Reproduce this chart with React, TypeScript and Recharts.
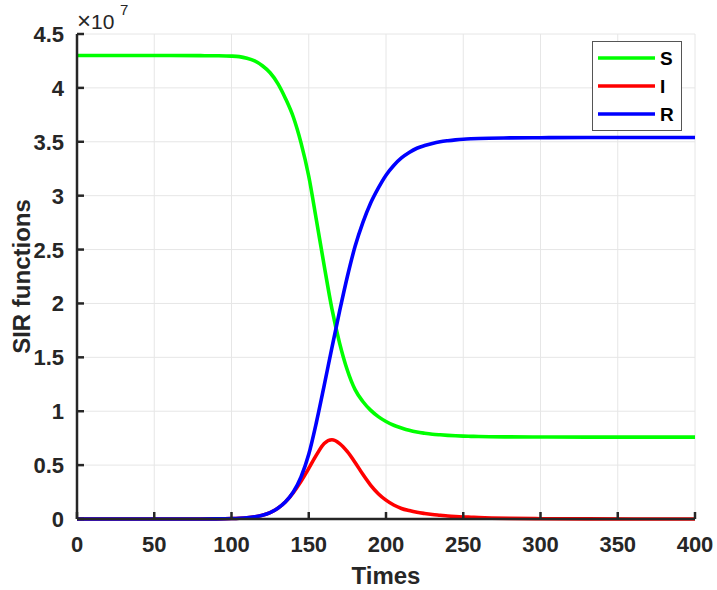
import React from 'react';
import { LineChart, Line, XAxis, YAxis, CartesianGrid, Legend } from 'recharts';

// values in units of 1e7
const times = [0, 20, 40, 60, 80, 90, 100, 105, 110, 115, 120, 125, 130, 135, 140, 145, 150, 155, 160, 165, 170, 175, 180, 185, 190, 195, 200, 205, 210, 215, 220, 225, 230, 235, 240, 245, 250, 255, 260, 280, 300, 330, 360, 400];
const susceptible = [4.3, 4.3, 4.3, 4.3, 4.299, 4.298, 4.295, 4.29, 4.275, 4.25, 4.205, 4.14, 4.04, 3.9, 3.73, 3.49, 3.18, 2.77, 2.35, 1.95, 1.63, 1.38, 1.2, 1.09, 1.01, 0.95, 0.905, 0.87, 0.845, 0.823, 0.807, 0.796, 0.787, 0.781, 0.776, 0.772, 0.769, 0.767, 0.765, 0.762, 0.761, 0.76, 0.76, 0.76];
const infected = [0, 0, 0, 0, 0, 0.001, 0.004, 0.007, 0.012, 0.021, 0.035, 0.06, 0.1, 0.16, 0.245, 0.35, 0.47, 0.595, 0.7, 0.735, 0.7, 0.625, 0.525, 0.415, 0.315, 0.235, 0.175, 0.13, 0.098, 0.078, 0.062, 0.051, 0.042, 0.035, 0.028, 0.023, 0.019, 0.016, 0.013, 0.006, 0.003, 0.001, 0, 0];
const recovered = [0, 0, 0, 0, 0, 0.001, 0.004, 0.007, 0.012, 0.021, 0.035, 0.06, 0.1, 0.16, 0.25, 0.39, 0.6, 0.9, 1.24, 1.59, 1.93, 2.25, 2.53, 2.75, 2.93, 3.07, 3.19, 3.28, 3.35, 3.4, 3.44, 3.465, 3.485, 3.5, 3.51, 3.518, 3.524, 3.528, 3.531, 3.536, 3.538, 3.54, 3.54, 3.54];

const xTicks = [0, 50, 100, 150, 200, 250, 300, 350, 400];
const yTicks = [0, 0.5, 1, 1.5, 2, 2.5, 3, 3.5, 4, 4.5];

const series = [
  { key: 'S', color: '#00ff00' },
  { key: 'I', color: '#ff0000' },
  { key: 'R', color: '#0000ff' },
];

const data = times.map((t, i) => ({ t, S: susceptible[i], I: infected[i], R: recovered[i] }));

const FONT = '"Liberation Sans", Arial, Helvetica, sans-serif';
const INK = '#262626';
const PLOT_LEFT = 77;
const PLOT_TOP = 34;

const XTick = (props: any) => {
  const { x, y, payload } = props;
  return (
    <g>
      <line x1={x} y1={y} x2={x} y2={y - 7} stroke={INK} strokeWidth={2.5} />
      <text x={x} y={y + 33} textAnchor="middle" fontFamily={FONT} fontWeight="bold" fontSize={22} fill={INK}>
        {payload.value}
      </text>
    </g>
  );
};

const YTick = (props: any) => {
  const { x, y, payload } = props;
  return (
    <g>
      <line x1={x} y1={y} x2={x + 7} y2={y} stroke={INK} strokeWidth={2.5} />
      <text x={x - 13} y={y + 8} textAnchor="end" fontFamily={FONT} fontWeight="bold" fontSize={22} fill={INK}>
        {payload.value}
      </text>
    </g>
  );
};

const YLabel = (props: any) => {
  const { viewBox } = props;
  const cx = 30;
  const cy = viewBox.y + viewBox.height / 2;
  return (
    <g>
      <text x={cx} y={cy} transform={`rotate(-90, ${cx}, ${cy})`} textAnchor="middle" fontFamily={FONT} fontWeight="bold" fontSize={24} fill={INK}>
        SIR functions
      </text>
      <text x={PLOT_LEFT} y={PLOT_TOP - 5} fontFamily={FONT} fontSize={21} fill={INK}>
        <tspan fontSize={24}>×</tspan>10
      </text>
      <text x={PLOT_LEFT + 43} y={PLOT_TOP - 19} fontFamily={FONT} fontSize={15} fill={INK}>
        7
      </text>
    </g>
  );
};

const XLabel = (props: any) => {
  const { viewBox } = props;
  return (
    <text x={viewBox.x + viewBox.width / 2} y={584} textAnchor="middle" fontFamily={FONT} fontWeight="bold" fontSize={24} fill={INK}>
      Times
    </text>
  );
};

const LegendBox = () => (
  <svg width={90} height={90} style={{ display: 'block' }}>
    <rect x={0.5} y={0.5} width={89} height={89} fill="#fff" stroke="#555" strokeWidth={1} />
    {series.map((s, i) => (
      <g key={s.key}>
        <line x1={6} x2={63} y1={17 + i * 28} y2={17 + i * 28} stroke={s.color} strokeWidth={3.5} />
        <text x={68} y={17 + i * 28 + 7} fontFamily={FONT} fontWeight="bold" fontSize={19} fill="#000">
          {s.key}
        </text>
      </g>
    ))}
  </svg>
);

export default function App() {
  return (
    <div style={{ width: 717, height: 590, background: '#fff' }}>
      <style>{'body { margin: 0; overflow: hidden; }'}</style>
      <LineChart width={717} height={590} data={data} margin={{ top: PLOT_TOP, right: 22, bottom: 31, left: 0 }}>
        <CartesianGrid stroke="#e6e6e6" strokeWidth={1} />
        <XAxis
          dataKey="t"
          type="number"
          domain={[0, 400]}
          ticks={xTicks}
          height={40}
          tickSize={0}
          tickMargin={0}
          tickLine={false}
          axisLine={{ stroke: INK, strokeWidth: 2.5 }}
          tick={<XTick />}
          label={<XLabel />}
        />
        <YAxis
          type="number"
          domain={[0, 4.5]}
          ticks={yTicks}
          width={PLOT_LEFT}
          tickSize={0}
          tickMargin={0}
          tickLine={false}
          axisLine={{ stroke: INK, strokeWidth: 2.5 }}
          tick={<YTick />}
          label={<YLabel />}
        />
        <Legend
          layout="vertical"
          align="center"
          verticalAlign="middle"
          content={<LegendBox />}
          wrapperStyle={{ top: 41, left: 592, width: 90, height: 90 }}
        />
        {series.map((s) => (
          <Line
            key={s.key}
            dataKey={s.key}
            type="monotone"
            stroke={s.color}
            strokeWidth={3.6}
            dot={false}
            isAnimationActive={false}
          />
        ))}
      </LineChart>
    </div>
  );
}
